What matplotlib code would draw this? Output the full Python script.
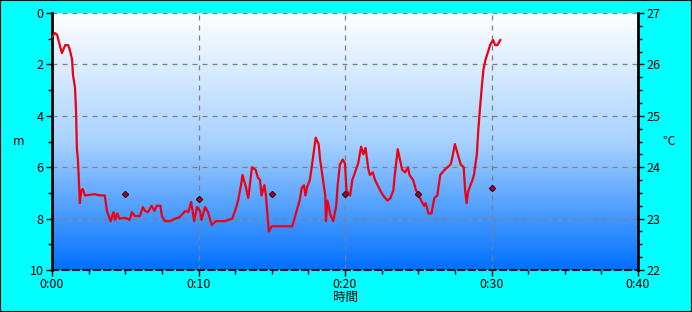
import matplotlib
matplotlib.use("Agg")
import matplotlib.pyplot as plt
import numpy as np
from matplotlib.ticker import MultipleLocator, FuncFormatter
from matplotlib.colors import LinearSegmentedColormap
from matplotlib.patches import Rectangle

plt.rcParams['font.family'] = ['Noto Sans CJK JP', 'DejaVu Sans']

time_min = [0.0, 0.2, 0.35, 0.55, 0.68, 0.9, 1.1, 1.2, 1.37, 1.43, 1.57, 1.64, 1.7, 1.77, 1.9,
            2.0, 2.1, 2.25, 2.9, 3.3, 3.6, 3.75, 4.0, 4.2, 4.3, 4.45, 4.6, 5.0, 5.3, 5.45, 5.65,
            6.0, 6.2, 6.35, 6.55, 6.8, 7.0, 7.15, 7.4, 7.5, 7.7, 8.05, 8.4, 8.7, 9.1, 9.3, 9.5,
            9.7, 9.9, 10.1, 10.2, 10.45, 10.65, 10.9, 11.2, 11.8, 12.3, 12.5, 12.7, 12.9, 13.0,
            13.2, 13.4, 13.65, 13.9, 14.05, 14.2, 14.3, 14.5, 14.6, 14.8, 15.0, 15.4, 16.4, 16.7,
            16.9, 17.05, 17.2, 17.3, 17.4, 17.6, 17.8, 18.0, 18.2, 18.3, 18.5, 18.65, 18.7, 18.8,
            19.0, 19.2, 19.4, 19.5, 19.65, 19.85, 20.0, 20.1, 20.35, 20.5, 20.75, 20.9, 21.1,
            21.25, 21.4, 21.6, 21.7, 21.9, 22.05, 22.4, 22.6, 22.9, 23.1, 23.3, 23.4, 23.6, 23.75,
            23.9, 24.1, 24.3, 24.4, 24.65, 24.85, 25.0, 25.2, 25.4, 25.5, 25.7, 25.9, 26.1, 26.3,
            26.5, 26.8, 27.2, 27.3, 27.5, 27.7, 27.9, 28.1, 28.2, 28.3, 28.4, 28.7, 28.8, 29.0,
            29.1, 29.2, 29.35, 29.45, 29.6, 29.8, 29.9, 30.1, 30.25, 30.4, 30.6]
depth_m = [0.93, 0.78, 0.85, 1.3, 1.56, 1.25, 1.25, 1.4, 1.8, 2.4, 2.9, 3.8, 5.3, 5.7, 7.4,
           6.9, 6.85, 7.1, 7.05, 7.1, 7.1, 7.7, 8.1, 7.75, 8.05, 7.8, 8.0, 7.97, 8.05, 7.75, 7.9,
           7.9, 7.55, 7.7, 7.75, 7.5, 7.7, 7.5, 7.5, 7.9, 8.1, 8.1, 8.0, 7.95, 7.7, 7.75, 7.35,
           8.1, 7.55, 7.7, 8.05, 7.55, 7.75, 8.25, 8.1, 8.1, 8.0, 7.7, 7.3, 6.7, 6.3,
           6.7, 7.2, 6.0, 6.1, 6.4, 6.5, 7.1, 6.7, 7.1, 8.5, 8.3, 8.3, 8.3, 7.7,
           7.3, 6.8, 6.7, 7.1, 6.8, 6.5, 5.7, 4.85, 5.1, 5.7, 6.5, 7.1, 8.1, 7.3,
           7.85, 8.1, 7.5, 6.7, 5.9, 5.7, 5.85, 6.9, 7.1, 6.5, 6.1, 5.85, 5.2,
           5.5, 5.25, 6.1, 6.3, 6.2, 6.5, 6.9, 7.1, 7.3, 7.2, 6.9, 6.3, 5.3, 5.7,
           6.1, 6.2, 6.0, 6.3, 6.5, 6.9, 7.05, 7.3, 7.5, 7.4, 7.8, 7.8, 7.2, 7.1,
           6.3, 6.1, 5.9, 5.7, 5.1, 5.5, 5.9, 6.0, 6.9, 7.4, 6.95, 6.5, 6.3, 5.5,
           4.55, 3.8, 2.8, 2.2, 1.8, 1.45, 1.25, 1.05, 1.25, 1.25, 1.05]

temp_time_min = [5, 10, 15, 20, 25, 30]
temp_c = [23.48, 23.38, 23.48, 23.48, 23.48, 23.6]

fig = plt.figure(figsize=(6.92, 3.12), dpi=100, facecolor='#00ffff')
ax = fig.add_axes([52/692, 1-270/312, (638-52)/692, (270-13)/312])

# gradient background
cmap = LinearSegmentedColormap.from_list('bg', ['#ffffff', '#a8d2ff', '#0070ff'])
grad = np.linspace(0, 1, 256).reshape(-1, 1)
ax.imshow(grad, extent=[0, 1, 0, 1], transform=ax.transAxes, aspect='auto',
          cmap=cmap, zorder=0, origin='upper')

ax.set_xlim(0, 40)
ax.set_ylim(10, 0)
ax.plot(time_min, depth_m, color='#ee0010', lw=1.6, zorder=3)

ax.xaxis.set_major_locator(MultipleLocator(10))
ax.xaxis.set_minor_locator(MultipleLocator(2.5))
ax.xaxis.set_major_formatter(FuncFormatter(lambda v, p: f"{int(v)//60}:{int(v)%60:02d}"))
ax.yaxis.set_major_locator(MultipleLocator(2))
ax.yaxis.set_minor_locator(MultipleLocator(1))
ax.grid(True, which='major', color='#808080', linestyle=(0, (4, 4)), lw=0.9, zorder=1)

ax.spines['left'].set_linewidth(2)
ax.spines['left'].set_color('black')
ax.spines['right'].set_visible(False)
ax.spines['top'].set_visible(False)
ax.spines['bottom'].set_linewidth(1.5)
ax.spines['bottom'].set_color('#101030')
ax.spines['bottom'].set_linestyle((0, (3, 2)))

ax.tick_params(axis='both', which='major', direction='out', length=4, width=1, labelsize=9, pad=2)
ax.tick_params(axis='both', which='minor', direction='out', length=3, width=1)
ax.set_xlabel('時間', fontsize=9, labelpad=0)
ax.set_ylabel('m', fontsize=9, rotation=0, labelpad=8, va='center')

ax2 = ax.twinx()
ax2.set_ylim(22, 27)
ax2.plot(temp_time_min, temp_c, linestyle='none', marker='D', markersize=3.2,
         markerfacecolor='#b00020', markeredgecolor='#300010', markeredgewidth=0.8, zorder=4)
ax2.yaxis.set_major_locator(MultipleLocator(1))
ax2.yaxis.set_minor_locator(MultipleLocator(0.25))
ax2.spines['right'].set_linewidth(2)
ax2.spines['right'].set_color('black')
for s in ['left', 'top', 'bottom']:
    ax2.spines[s].set_visible(False)
ax2.tick_params(axis='y', which='major', direction='out', length=4, width=1, labelsize=9, pad=2)
ax2.tick_params(axis='y', which='minor', direction='out', length=3, width=1)
ax2.set_ylabel('℃', fontsize=9, rotation=0, labelpad=6, va='center')

fig.patches.append(Rectangle((0, 0), 1, 1, transform=fig.transFigure, fill=False,
                             edgecolor='black', lw=1.5))

fig.savefig('out.png', dpi=100, facecolor=fig.get_facecolor())
